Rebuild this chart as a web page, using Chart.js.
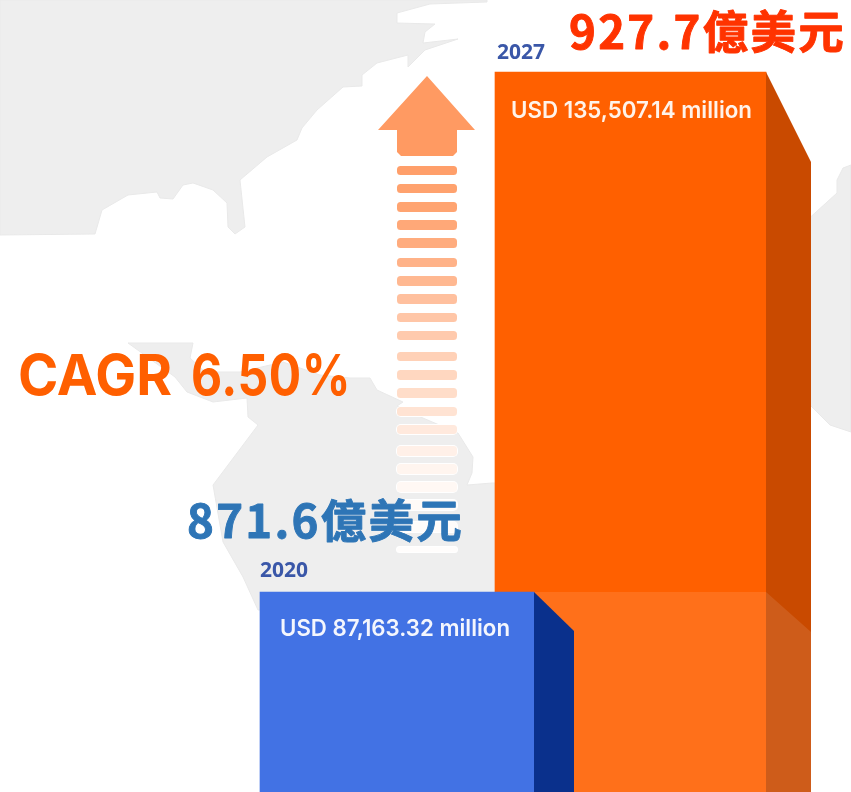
<!DOCTYPE html>
<html><head><meta charset="utf-8">
<style>html,body{margin:0;padding:0;background:#fff;overflow:hidden}canvas{display:block}</style>
<script src="https://cdn.jsdelivr.net/npm/chart.js@4/dist/chart.umd.min.js"></script>
</head><body><canvas id="c" width="851" height="792"></canvas>
<script>
const categories = ['2020', '2027'];
const marketValues = [87163.32, 135507.14];
const valueLabels = ['USD 87,163.32 million', 'USD 135,507.14 million'];
const chineseLabels = ['871.6億美元', '927.7億美元'];
const cagrLabel = ['CAGR', '6.50%'];
const axisMin = 68569, axisMax = 142201;

const mapShapes = [
 [[0,0],[487,0],[487,2],[430,4],[397,13],[397,23],[435,24],[425,32],[423,43],[458,39],[425,50],[408,67],[408,55],[377,63],[362,75],[362,86],[343,87],[317,110],[302,128],[297,140],[267,157],[240,180],[245,227],[235,234],[228,227],[227,203],[213,190],[193,183],[183,185],[173,199],[160,198],[157,192],[128,195],[102,210],[95,234],[0,235]],
 [[128,343],[193,343],[190,358],[205,372],[240,372],[283,362],[320,375],[350,378],[370,378],[377,390],[403,402],[397,406],[423,418],[458,433],[473,457],[472,473],[467,485],[492,483],[500,483],[500,610],[258,610],[243,577],[223,542],[213,485],[258,425],[248,417],[247,398],[213,402],[187,392],[175,377]],
 [[805,222],[837,193],[837,180],[843,168],[851,165],[851,432],[830,425],[805,400]]
];
const stripes = [[166,9,.95],[184,9,.92],[202,10,.9],[220,10,.86],[238,10,.82],[258,9,.76],[276,10,.7],[294,10,.62],[313,9,.56],[331,9,.52],[352,9,.46],[370,10,.4],[388,10,.34],[407,9,.28],[425,9,.22],[446,10,.15],[464,10,.1],[482,10,.07],[500,10,.05],[522,10,.03],[547,5,.02]];

function poly(ctx, pts, fill){
  ctx.beginPath(); pts.forEach((p,i)=> i?ctx.lineTo(p[0],p[1]):ctx.moveTo(p[0],p[1])); ctx.closePath();
  ctx.fillStyle = fill; ctx.fill();
}
function text(ctx, s, x, y, font, color, maxW, blur, spacing, stroke){
  ctx.save(); ctx.font = font; ctx.fillStyle = color; ctx.textBaseline='alphabetic'; ctx.textAlign='left';
  if (blur) ctx.filter = 'blur('+blur+'px)';
  ctx.letterSpacing = (spacing||0)+'px';
  if (stroke){ ctx.strokeStyle = color; ctx.lineWidth = stroke; ctx.lineJoin='round'; ctx.strokeText(s,x,y); }
  if (maxW) ctx.fillText(s,x,y,maxW); else ctx.fillText(s,x,y);
  ctx.restore();
}
const decor = {
  id:'decor',
  beforeDatasetsDraw(chart){
    const ctx = chart.ctx; ctx.save();
    mapShapes.forEach(s=>{ poly(ctx,s,'#EEEEEE'); ctx.strokeStyle='#E9E9E9'; ctx.lineWidth=1; ctx.stroke(); });
    ctx.filter='blur(0.6px)';
    poly(ctx,[[427,76],[475,130],[457,130],[457,152],[453,156],[401,156],[397,152],[397,130],[378,130]],'#FF9A62');
    stripes.forEach(s=>{
      if (s[0]>400){
        ctx.beginPath(); ctx.roundRect(396,s[0]-1,62,s[1]+2,5);
        ctx.fillStyle='#FFFFFF'; ctx.fill();
      }
      ctx.beginPath(); ctx.roundRect(397,s[0],60,s[1],3.5);
      ctx.fillStyle='rgba(255,154,98,'+s[2]+')'; ctx.fill();
    });
    ctx.restore();
  },
  afterDatasetDraw(chart,args){
    const ctx = chart.ctx;
    const blue = chart.getDatasetMeta(0).data[0], orange = chart.getDatasetMeta(1).data[1];
    const bot = chart.height;
    if (args.index===1){
      const r = orange.x+orange.width/2;
      poly(ctx,[[r,orange.y],[r+45,orange.y+90],[r+45,bot],[r,bot]],'#C94A00');
      const br = blue.x+blue.width/2;
      poly(ctx,[[br,blue.y],[r,blue.y],[r+45,blue.y+40],[r+45,bot],[br,bot]],'rgba(255,255,255,0.1)');
    } else {
      const r = blue.x+blue.width/2;
      poly(ctx,[[r,blue.y],[r+40,blue.y+39],[r+40,bot],[r,bot]],'#0A308C');
    }
  },
  afterDatasetsDraw(chart){
    const ctx = chart.ctx;
    const blue = chart.getDatasetMeta(0).data[0], orange = chart.getDatasetMeta(1).data[1];
    const bl = blue.x-blue.width/2, ol = orange.x-orange.width/2;
    text(ctx,categories[0],bl,blue.y-15,'700 21px "Open Sans"','#3A57A8',49,0.6);
    text(ctx,categories[1],ol+2,orange.y-13,'700 21px "Open Sans"','#3A57A8',48,0.7);
    text(ctx,valueLabels[0],bl+20,blue.y+44,'600 23px Inter','#F4F6FD',230,0.6);
    text(ctx,valueLabels[1],ol+16,orange.y+46,'600 23px Inter','#FFF3EA',241,0.6);
    text(ctx,cagrLabel[0],18,395,'700 57px Inter','#FF5F00',154,0.6);
    text(ctx,cagrLabel[1],191,395,'700 57px Inter','#FF5F00',160,0.6,0.6);
    text(ctx,chineseLabels[1],569,49,'700 45.5px "Noto Sans CJK TC"','#FF3300',null,0,2.3,0.9);
    text(ctx,chineseLabels[0],187,538,'700 45.5px "Noto Sans CJK TC"','#2E75B6',null,0,2.3,0.9);
  }
};
const chart = new Chart(document.getElementById('c'),{
  type:'bar',
  data:{labels:categories,datasets:[
    {label:categories[0],data:[marketValues[0],null],backgroundColor:'#4272E4',barThickness:274,order:1,clip:false},
    {label:categories[1],data:[null,marketValues[1]],backgroundColor:'#FF6000',barThickness:271,order:2,clip:false}
  ]},
  options:{
    responsive:false,animation:false,
    layout:{padding:{left:397,right:220.5,top:0,bottom:0}},
    plugins:{legend:{display:false},tooltip:{enabled:false},title:{display:false}},
    scales:{
      x:{display:false,stacked:true,offset:false},
      y:{display:false,stacked:true,min:axisMin,max:axisMax}
    }
  },
  plugins:[decor]
});
</script></body></html>
